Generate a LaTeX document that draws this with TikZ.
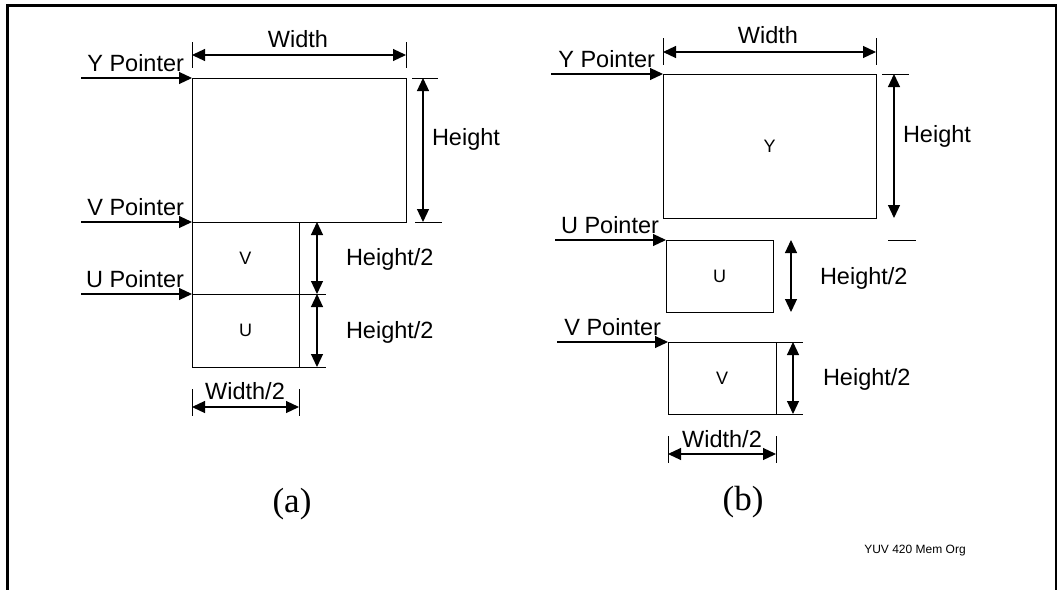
\documentclass[tikz,border=0pt]{standalone}
\usepackage{fontspec}
\setmainfont{Liberation Sans}
\newfontfamily\serifcap{Liberation Serif}
\usetikzlibrary{arrows.meta}
\begin{document}
\begin{tikzpicture}[x=1pt,y=-1pt,
  every node/.style={inner sep=0pt,outer sep=0pt},
  lbl/.style={font=\fontsize{23.5}{27}\selectfont},
  inlbl/.style={font=\fontsize{18}{21}\selectfont},
  figcap/.style={font=\serifcap\fontsize{35}{40}\selectfont},
  foot/.style={font=\fontsize{12}{14}\selectfont},
  plane/.style={draw,line width=1pt,anchor=north west,inlbl},
  ptr/.style={line width=1.1pt,-{Triangle[length=13pt,width=12pt]}},
  dim/.style={line width=1.2pt,{Triangle[length=13pt,width=12pt]}-{Triangle[length=13pt,width=12pt]}},
  tick/.style={line width=1pt}]
\useasboundingbox (0,0) rectangle (1060,589);
% outer frame (open at the bottom)
\draw[line width=2.2pt] (7.5,600) -- (7.5,5.5) -- (1056,5.5) -- (1056,600);

% ---------------- (a) planar layout, V before U ----------------
\node[plane,minimum width=214pt,minimum height=144pt] (Ya) at (192,78) {};
\node[plane,minimum width=107pt,minimum height=72pt] (Va) at (192,222) {V};
\node[plane,minimum width=107pt,minimum height=73pt] (Ua) at (192,294) {U};

\coordinate (yaS) at (81,78);
\coordinate (vaS) at (81,222);
\coordinate (uaS) at (81,294);
\draw[ptr] (yaS) -- (Ya.north west);
\draw[ptr] (vaS) -- (Va.north west);
\draw[ptr] (uaS) -- (Ua.north west);
\node[lbl,anchor=base east] (yaL) at (184,71) {Y Pointer};
\node[lbl,anchor=base east] (vaL) at (184,215) {V Pointer};
\node[lbl,anchor=base east] (uaL) at (184,287) {U Pointer};

% width
\coordinate (wa1t) at (192,42); \coordinate (wa1b) at (192,68);
\coordinate (wa2t) at (406,42); \coordinate (wa2b) at (406,68);
\coordinate (wa1) at (192,55); \coordinate (wa2) at (406,55);
\draw[tick] (wa1t) -- (wa1b);
\draw[tick] (wa2t) -- (wa2b);
\draw[dim] (wa1) -- (wa2);
\node[lbl,anchor=base] (waL) at (298,47) {Width};

% height
\coordinate (ha1l) at (412,78); \coordinate (ha1r) at (438,78);
\coordinate (ha2l) at (415,222); \coordinate (ha2r) at (442,222);
\coordinate (ha1) at (423,78); \coordinate (ha2) at (423,222);
\draw[tick] (ha1l) -- (ha1r);
\draw[tick] (ha2l) -- (ha2r);
\draw[dim] (ha1) -- (ha2);
\node[lbl,anchor=base west] (haL) at (432,145) {Height};

% height/2 twice
\coordinate (hha1r) at (326,294); \coordinate (hha2r) at (326,367);
\draw[tick] (Ua.north east) -- (hha1r);
\draw[tick] (Ua.south east) -- (hha2r);
\coordinate (hha0) at (317,222); \coordinate (hha1) at (317,294); \coordinate (hha2) at (317,367);
\draw[dim] (hha0) -- (hha1);
\draw[dim] (hha1) -- (hha2);
\node[lbl,anchor=base west] (hhaL1) at (346,265) {Height/2};
\node[lbl,anchor=base west] (hhaL2) at (346,338) {Height/2};

% width/2
\coordinate (hwa1t) at (192,389); \coordinate (hwa1b) at (192,416);
\coordinate (hwa2t) at (299,389); \coordinate (hwa2b) at (299,416);
\coordinate (hwa1) at (192,407); \coordinate (hwa2) at (299,407);
\draw[tick] (hwa1t) -- (hwa1b);
\draw[tick] (hwa2t) -- (hwa2b);
\draw[dim] (hwa1) -- (hwa2);
\node[lbl,anchor=base] (hwaL) at (245,399) {Width/2};

\node[figcap] (capA) at (292,504) {(a)};

% ---------------- (b) separate planes ----------------
\node[plane,minimum width=213pt,minimum height=144pt] (Yb) at (663,74) {Y};
\node[plane,minimum width=107pt,minimum height=72pt] (Ub) at (666,240) {U};
\node[plane,minimum width=108pt,minimum height=72pt] (Vb) at (668,342) {V};

\coordinate (ybS) at (551,74);
\coordinate (ubS) at (555,240);
\coordinate (vbS) at (557,342);
\draw[ptr] (ybS) -- (Yb.north west);
\draw[ptr] (ubS) -- (Ub.north west);
\draw[ptr] (vbS) -- (Vb.north west);
\node[lbl,anchor=base east] (ybL) at (655,67) {Y Pointer};
\node[lbl,anchor=base east] (ubL) at (659,233) {U Pointer};
\node[lbl,anchor=base east] (vbL) at (661,335) {V Pointer};

% width
\coordinate (wb1t) at (663,38); \coordinate (wb1b) at (663,65);
\coordinate (wb2t) at (876,38); \coordinate (wb2b) at (876,65);
\coordinate (wb1) at (663,52); \coordinate (wb2) at (876,52);
\draw[tick] (wb1t) -- (wb1b);
\draw[tick] (wb2t) -- (wb2b);
\draw[dim] (wb1) -- (wb2);
\node[lbl,anchor=base] (wbL) at (768,43) {Width};

% height
\coordinate (hb1l) at (882,74); \coordinate (hb1r) at (909,74);
\coordinate (hb2l) at (888,240); \coordinate (hb2r) at (916,240);
\coordinate (hb1) at (894,74); \coordinate (hb2) at (894,218);
\draw[tick] (hb1l) -- (hb1r);
\draw[tick] (hb2l) -- (hb2r);
\draw[dim] (hb1) -- (hb2);
\node[lbl,anchor=base west] (hbL) at (903,142) {Height};

% height/2 of U
\coordinate (hub1) at (791,240); \coordinate (hub2) at (791,312);
\draw[dim] (hub1) -- (hub2);
\node[lbl,anchor=base west] (hubL) at (820,284) {Height/2};

% height/2 of V
\coordinate (hvb1r) at (803,342); \coordinate (hvb2r) at (803,414);
\draw[tick] (Vb.north east) -- (hvb1r);
\draw[tick] (Vb.south east) -- (hvb2r);
\coordinate (hvb1) at (793,342); \coordinate (hvb2) at (793,414);
\draw[dim] (hvb1) -- (hvb2);
\node[lbl,anchor=base west] (hvbL) at (823,385) {Height/2};

% width/2
\coordinate (hwb1t) at (668,436); \coordinate (hwb1b) at (668,463);
\coordinate (hwb2t) at (776,436); \coordinate (hwb2b) at (776,463);
\coordinate (hwb1) at (668,454); \coordinate (hwb2) at (776,454);
\draw[tick] (hwb1t) -- (hwb1b);
\draw[tick] (hwb2t) -- (hwb2b);
\draw[dim] (hwb1) -- (hwb2);
\node[lbl,anchor=base] (hwbL) at (722,447) {Width/2};

\node[figcap] (capB) at (743,502) {(b)};

\node[foot] (tag) at (915,551) {YUV 420 Mem Org};
\end{tikzpicture}
\end{document}
